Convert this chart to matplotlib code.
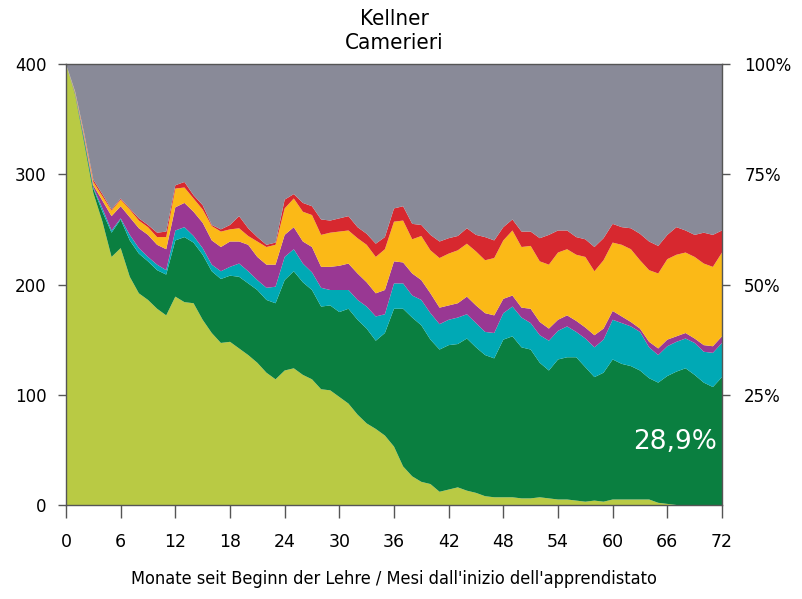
import numpy as np
import matplotlib
matplotlib.use("Agg")
import matplotlib.pyplot as plt

# Monate seit Lehrbeginn
monate = list(range(0, 73))

# Anzahl Personen je Status, 400 Lehrbeginner total
total = 400
hellgruen = [400, 372, 328, 283, 257, 225, 233, 207, 192, 186, 178, 172, 189, 184, 183, 168, 156, 147, 148, 142,
             136, 129, 120, 114, 122, 124, 118, 114, 105, 104, 98, 92, 82, 74, 69, 63, 53, 35, 26, 21,
             19, 12, 14, 16, 13, 11, 8, 7, 7, 7, 6, 6, 7, 6, 5, 5, 4, 3, 4, 3,
             5, 5, 5, 5, 5, 2, 1, 0, 0, 0, 0, 0, 0]
dunkelgruen = [0, 1, 3, 4, 9, 22, 26, 33, 36, 35, 35, 37, 51, 59, 55, 59, 56, 58, 60, 65,
               65, 66, 66, 69, 82, 88, 84, 81, 75, 77, 77, 86, 86, 86, 80, 93, 125, 143, 144, 142,
               131, 129, 131, 130, 138, 132, 128, 126, 143, 146, 137, 135, 122, 116, 127, 129, 130, 122, 112, 117,
               127, 123, 121, 117, 110, 109, 116, 121, 124, 118, 111, 107, 116]
tuerkis = [0, 0, 1, 1, 3, 2, 1, 5, 5, 4, 5, 4, 9, 9, 6, 6, 6, 7, 8, 12,
           11, 9, 11, 15, 21, 20, 17, 16, 17, 14, 20, 17, 18, 20, 22, 17, 23, 23, 20, 23,
           24, 23, 23, 24, 22, 22, 21, 23, 24, 27, 27, 24, 25, 27, 26, 28, 23, 26, 27, 30,
           36, 37, 36, 35, 28, 25, 27, 27, 27, 29, 28, 31, 31]
violett = [0, 1, 2, 2, 7, 13, 11, 16, 18, 20, 18, 19, 21, 22, 22, 23, 22, 22, 23, 20,
           24, 21, 21, 20, 20, 20, 20, 23, 19, 21, 22, 24, 24, 22, 21, 22, 20, 19, 20, 18,
           18, 15, 13, 13, 16, 16, 17, 16, 13, 10, 9, 13, 12, 11, 10, 10, 10, 10, 11, 10,
           8, 6, 4, 3, 5, 6, 6, 5, 5, 4, 6, 6, 6]
orange = [0, 1, 2, 3, 4, 5, 6, 7, 7, 7, 7, 11, 17, 14, 12, 12, 13, 14, 11, 12,
          8, 14, 16, 18, 24, 26, 27, 29, 29, 31, 31, 30, 32, 34, 33, 37, 36, 38, 31, 40,
          39, 45, 47, 48, 48, 49, 48, 52, 53, 59, 55, 57, 55, 58, 61, 60, 60, 64, 58, 62,
          62, 65, 66, 62, 65, 68, 73, 74, 73, 74, 74, 72, 76]
rot = [0, 0, 1, 2, 2, 1, 1, 1, 2, 2, 4, 5, 3, 5, 3, 4, 1, 2, 4, 11,
       7, 4, 2, 2, 8, 4, 8, 8, 14, 11, 12, 13, 10, 10, 12, 11, 12, 13, 14, 10,
       14, 15, 14, 13, 14, 15, 21, 16, 12, 10, 14, 13, 21, 27, 20, 17, 16, 16, 22, 20,
       17, 16, 19, 24, 26, 25, 22, 25, 20, 20, 28, 29, 20]

farben = ["#b9ca44", "#0a7f40", "#00a9b5", "#993893", "#fbb917", "#d7282f", "#898a98"]

serien = np.array([hellgruen, dunkelgruen, tuerkis, violett, orange, rot], dtype=float)
grau = total - serien.sum(axis=0)

plt.rcParams['font.family'] = ['DejaVu Sans']

fig = plt.figure(figsize=(8.03, 5.99), dpi=100)
ax = fig.add_axes([66 / 803, 94 / 599, 656 / 803, 441 / 599])

ax.stackplot(monate, *serien, grau, colors=farben, linewidth=0)

ax.set_xlim(0, 72)
ax.set_ylim(0, 400)
ax.set_xticks(range(0, 73, 6))
ax.set_yticks(range(0, 401, 100))
ax.tick_params(axis='x', length=9, width=1, color="#555555", labelsize=12.5, pad=11)
ax.tick_params(axis='y', length=6, width=1, color="#555555", labelsize=12, pad=8)
for s in ax.spines.values():
    s.set_color("#555555")
    s.set_linewidth(1)

ax2 = ax.twinx()
ax2.set_ylim(0, 1)
ax2.set_yticks([0.25, 0.5, 0.75, 1.0])
ax2.set_yticklabels(["25%", "50%", "75%", "100%"])
ax2.tick_params(axis='y', length=6, width=1, color="#555555", labelsize=12, pad=10)
for s in ax2.spines.values():
    s.set_visible(False)

ax.set_xlabel("Monate seit Beginn der Lehre / Mesi dall'inizio dell'apprendistato",
              fontsize=13, labelpad=14, fontstretch='condensed')
fig.text(394 / 803, 1 - 31 / 599, "Kellner\nCamerieri", ha='center', va='center',
         fontsize=16, linespacing=1.3, fontstretch='condensed')

ax.text(71.4, 57, "28,9%", color="white", fontsize=19, ha='right', va='center')

fig.savefig("out.png", dpi=100)
